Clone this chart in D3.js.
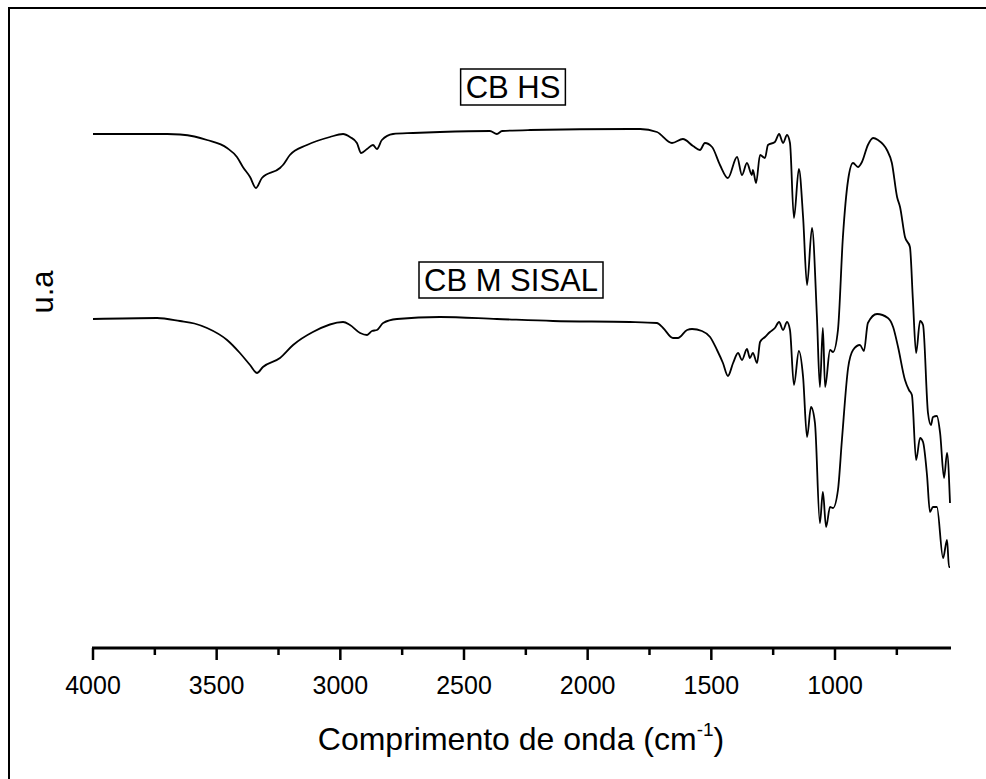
<!DOCTYPE html>
<html><head><meta charset="utf-8">
<script src="https://cdn.jsdelivr.net/npm/d3@7"></script>
<style>html,body{margin:0;padding:0;background:#fff;}svg{display:block;}</style>
</head><body>
<script>
// Wavenumbers (cm^-1) and intensities (arbitrary units)
const hsWave = [4000,3700,3648,3590,3539,3458,3418,3394,3365,3341,3317,3244,3232,3204,3135,3042,2989,2961,2933,2916,2892,2868,2852,2832,2787,2706,2597,2395,2367,2346,2233,1829,1788,1720,1659,1615,1574,1546,1526,1497,1465,1433,1396,1376,1356,1336,1332,1319,1303,1283,1271,1243,1226,1210,1194,1182,1166,1146,1129,1113,1093,1073,1061,1049,1040,1020,1008,988,968,947,927,907,891,867,846,826,790,770,749,737,717,697,685,672,656,644,624,612,604,588,575,559,547,535];
const hsValue = [102.8,102.8,102.7,102.3,101.6,100.0,98.2,96.2,94.2,92.0,94.0,96.0,96.6,98.6,100.6,102.2,102.8,102.2,101.0,99.0,99.8,100.6,99.8,101.6,102.8,103.0,103.2,103.4,102.8,103.4,103.6,103.8,103.8,103.2,101.0,101.8,100.4,99.6,101.0,100.2,96.6,94.0,98.2,94.6,97.0,94.6,95.6,93.0,98.6,98.0,100.6,101.2,102.8,101.0,102.6,101.0,86.0,95.8,86.2,72.6,84.0,66.2,52.2,64.0,52.2,59.6,59.2,63.6,82.2,93.6,97.0,96.2,97.2,100.6,102.0,101.6,99.6,97.0,90.2,88.2,82.2,80.2,69.6,59.0,65.4,64.6,47.0,44.6,46.2,46.4,43.0,34.0,39.0,29.0];

const sisalWave = [4000,3741,3648,3590,3539,3458,3406,3365,3337,3313,3244,3191,3111,2989,2961,2920,2892,2872,2852,2827,2771,2597,2367,2140,1829,1720,1695,1655,1635,1598,1578,1538,1505,1477,1453,1433,1412,1392,1376,1356,1344,1332,1315,1303,1283,1263,1243,1226,1210,1194,1182,1166,1146,1129,1113,1097,1081,1061,1049,1036,1020,1008,988,972,947,927,899,883,867,830,786,765,745,717,701,689,672,656,644,628,616,604,588,563,547,539,535];
const sisalValue = [65.8,66.0,65.4,64.9,64.0,61.6,59.0,56.6,55.0,56.2,58.0,60.6,63.2,65.2,64.6,63.0,62.6,63.4,63.6,65.0,65.8,66.2,65.8,65.4,65.2,65.0,64.0,62.0,62.0,63.6,63.8,63.4,62.2,59.6,57.0,54.4,57.0,59.0,57.6,59.8,58.0,59.0,57.0,61.2,62.2,63.2,64.0,65.2,63.6,65.2,63.6,52.6,59.4,54.2,42.2,48.2,45.0,25.0,31.2,24.2,28.2,28.0,31.6,41.6,56.0,59.6,60.6,59.4,65.0,66.8,66.0,64.2,60.2,53.6,51.6,50.6,37.6,42.0,41.2,34.6,27.2,28.2,28.2,18.0,21.6,16.2,16.2];

const seriesNames = ["CB HS","CB M SISAL"];
const majorTicks = [4000,3500,3000,2500,2000,1500,1000];
const minorTicks = [3750,3250,2750,2250,1750,1250,750];
const xDomain = [4000,535];
const yDomain = [0,120];
const xTitle = "Comprimento de onda (cm";
const xTitleSup = "-1";
const yTitle = "u.a";

const W = 986, H = 779;
const FONT = "Liberation Sans, Arial, sans-serif";
const svg = d3.select("body").append("svg").attr("width",W).attr("height",H);

// outer frame
svg.append("rect").attr("x",9).attr("y",8).attr("width",W+20).attr("height",H+20)
  .attr("fill","none").attr("stroke","#000").attr("stroke-width",2);

const x = d3.scaleLinear().domain(xDomain).range([93,950]);
const y = d3.scaleLinear().domain(yDomain).range([648,48]);

// axis
const axisG = svg.append("g").attr("transform","translate(0,648)");
axisG.append("line").attr("x1",x(xDomain[0])-1).attr("x2",x(xDomain[1])+1).attr("y1",0).attr("y2",0)
  .attr("stroke","#000").attr("stroke-width",3);
axisG.selectAll(".maj").data(majorTicks).enter().append("line")
  .attr("x1",d=>x(d)).attr("x2",d=>x(d)).attr("y1",0).attr("y2",12)
  .attr("stroke","#000").attr("stroke-width",2.5);
axisG.selectAll(".min").data(minorTicks).enter().append("line")
  .attr("x1",d=>x(d)).attr("x2",d=>x(d)).attr("y1",0).attr("y2",7)
  .attr("stroke","#000").attr("stroke-width",2.5);
axisG.selectAll(".lab").data(majorTicks).enter().append("text")
  .attr("x",d=>x(d)).attr("y",46).attr("text-anchor","middle")
  .attr("font-family",FONT).attr("font-size",25)
  .text(d=>d);

// axis titles
const xt = svg.append("text").attr("x",521).attr("y",750).attr("text-anchor","middle")
  .attr("font-family",FONT).attr("font-size",32);
xt.append("tspan").text(xTitle);
xt.append("tspan").attr("font-size",19).attr("dy",-14).text(xTitleSup);
xt.append("tspan").attr("dy",14).text(")");

svg.append("text").attr("transform","translate(53,292) rotate(-90)").attr("text-anchor","middle")
  .attr("font-family",FONT).attr("font-size",31).text(yTitle);

// curves
const line = d3.line().x(d=>x(d[0])).y(d=>y(d[1])).curve(d3.curveMonotoneX);
const hsData = hsWave.map((w,i)=>[w,hsValue[i]]);
const sisalData = sisalWave.map((w,i)=>[w,sisalValue[i]]);
[hsData, sisalData].forEach(data=>{
  svg.append("path").datum(data).attr("d",line).attr("fill","none")
    .attr("stroke","#000").attr("stroke-width",1.8).attr("stroke-linejoin","round");
});

// labels with boxes
const labelPos = [[513,87],[511,280]];
seriesNames.forEach((name,i)=>{
  const g = svg.append("g");
  const t = g.append("text").attr("x",labelPos[i][0]).attr("y",labelPos[i][1]+11)
    .attr("text-anchor","middle").attr("font-family",FONT)
    .attr("font-size",31).text(name);
  const bb = t.node().getBBox();
  g.insert("rect","text").attr("x",bb.x-5).attr("y",labelPos[i][1]-18).attr("width",bb.width+10).attr("height",36)
    .attr("fill","#fff").attr("stroke","#000").attr("stroke-width",1.5);
});
</script>
</body></html>
